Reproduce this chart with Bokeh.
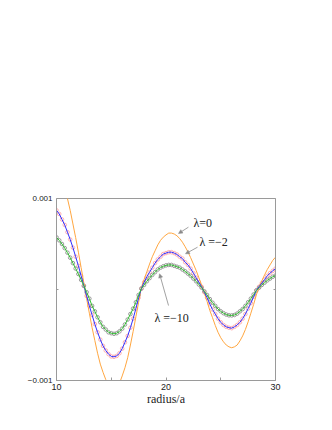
from bokeh.plotting import figure
from bokeh.models import (Range1d, FixedTicker, LinearAxis, Label, Arrow, NormalHead,
                          ColumnDataSource)
from bokeh.embed import file_html
from bokeh.resources import INLINE

# radius/a sampled every 0.25 from 10 to 30
radius = [10 + 0.25 * i for i in range(81)]

# Psi values (units of 1e-3)
psi_lam0 = [1.35, 1.29, 1.21, 1.11, 1.00, 0.87, 0.72, 0.57, 0.41, 0.24, 0.07,
            -0.10, -0.26, -0.42, -0.56, -0.70, -0.82, -0.91, -0.99, -1.05, -1.08,
            -1.09, -1.07, -1.03, -0.95, -0.86, -0.75, -0.61, -0.46, -0.30, -0.14,
            0.02, 0.11, 0.195, 0.28, 0.36, 0.425, 0.49, 0.54, 0.575, 0.60, 0.62,
            0.62, 0.61, 0.59, 0.56, 0.52, 0.47, 0.415, 0.35, 0.28, 0.21, 0.13, 0.05,
            -0.04, -0.13, -0.23, -0.31, -0.395, -0.47, -0.53, -0.575, -0.61, -0.63,
            -0.64, -0.63, -0.61, -0.565, -0.51, -0.44, -0.355, -0.26, -0.165, -0.06,
            0.03, 0.095, 0.16, 0.22, 0.27, 0.32, 0.355]

psi_lam2 = [0.87, 0.83, 0.77, 0.71, 0.63, 0.55, 0.46, 0.36, 0.26, 0.15, 0.04,
            -0.07, -0.18, -0.28, -0.38, -0.47, -0.55, -0.62, -0.67, -0.71, -0.735,
            -0.74, -0.73, -0.70, -0.65, -0.58, -0.51, -0.42, -0.32, -0.21, -0.09,
            0.01, 0.08, 0.14, 0.19, 0.24, 0.29, 0.33, 0.36, 0.39, 0.40, 0.41,
            0.41, 0.40, 0.385, 0.36, 0.34, 0.30, 0.27, 0.23, 0.18, 0.13, 0.08, 0.03,
            -0.03, -0.09, -0.16, -0.22, -0.27, -0.32, -0.36, -0.39, -0.41, -0.42,
            -0.425, -0.41, -0.39, -0.36, -0.32, -0.27, -0.21, -0.15, -0.08, -0.01,
            0.03, 0.07, 0.11, 0.15, 0.18, 0.205, 0.23]

psi_lam10 = [0.573, 0.54, 0.50, 0.455, 0.405, 0.35, 0.29, 0.23, 0.17, 0.106, 0.04,
             -0.03, -0.10, -0.18, -0.24, -0.305, -0.36, -0.41, -0.44, -0.47, -0.48,
             -0.487, -0.48, -0.46, -0.43, -0.385, -0.33, -0.27, -0.21, -0.14, -0.06,
             0.01, 0.05, 0.09, 0.125, 0.16, 0.19, 0.22, 0.24, 0.255, 0.265, 0.27,
             0.27, 0.26, 0.25, 0.24, 0.22, 0.20, 0.175, 0.15, 0.12, 0.09, 0.055, 0.02,
             -0.02, -0.06, -0.105, -0.145, -0.18, -0.215, -0.24, -0.26, -0.275, -0.284,
             -0.285, -0.28, -0.265, -0.24, -0.215, -0.18, -0.14, -0.10, -0.055, -0.01,
             0.02, 0.05, 0.075, 0.10, 0.12, 0.14, 0.154]

x_ticks = [10, 20, 30]
x_minor = [15, 25]
y_ticks = [-0.001, 0.001]
y_tick_labels = {-0.001: "\u22120.001", 0.001: "0.001"}

scale = 1e-3
src = ColumnDataSource(dict(
    r=radius,
    l0=[v * scale for v in psi_lam0],
    l2=[v * scale for v in psi_lam2],
    l10=[v * scale for v in psi_lam10],
))

GRAY = "#9a9a9a"
SERIF = "serif"
SANS = "Liberation Sans"

p = figure(frame_width=219, frame_height=182,
           x_range=Range1d(10, 30), y_range=Range1d(-0.001, 0.001),
           output_backend="svg", toolbar_location=None,
           min_border_left=56, min_border_right=41, min_border_top=198,
           min_border_bottom=30, background_fill_color="white",
           border_fill_color="white")
p.grid.visible = False
p.outline_line_color = GRAY
p.outline_line_width = 1

# bottom axis
xa = p.xaxis[0]
xa.ticker = FixedTicker(ticks=x_ticks, minor_ticks=x_minor)
xa.axis_line_color = GRAY
xa.major_tick_in = 3
xa.major_tick_out = 0
xa.minor_tick_in = 3
xa.minor_tick_out = 0
xa.major_tick_line_color = GRAY
xa.minor_tick_line_color = GRAY
xa.major_label_text_font = SANS
xa.major_label_text_font_size = "9px"
xa.major_label_text_color = "#222222"
xa.major_label_standoff = 3
xa.axis_label = "radius/a"
xa.axis_label_text_font = SERIF
xa.axis_label_text_font_style = "normal"
xa.axis_label_text_font_size = "12px"
xa.axis_label_text_color = "#222222"
xa.axis_label_standoff = -1

# left axis
ya = p.yaxis[0]
ya.ticker = FixedTicker(ticks=y_ticks, minor_ticks=[0])
ya.major_label_overrides = y_tick_labels
ya.axis_line_color = GRAY
ya.major_tick_in = 0
ya.major_tick_out = 0
ya.minor_tick_in = 2
ya.minor_tick_out = 0
ya.minor_tick_line_color = GRAY
ya.major_label_text_font = SANS
ya.major_label_text_font_size = "8px"
ya.major_label_text_color = "#222222"
ya.major_label_standoff = 4

# right axis (frame ticks only)
ra = LinearAxis(ticker=FixedTicker(ticks=[], minor_ticks=[0]))
ra.axis_line_color = GRAY
ra.minor_tick_in = 2
ra.minor_tick_out = 0
ra.minor_tick_line_color = GRAY
ra.major_tick_line_color = None
ra.major_label_text_font_size = "0px"
p.add_layout(ra, "right")

# curves: markers underneath, lines on top
p.scatter("r", "l2", source=src, size=3.6, marker="circle", fill_color=None,
          line_color="#ffa8a8", line_width=0.9)
p.scatter("r", "l10", source=src, size=3.6, marker="circle", fill_color=None,
          line_color="#909090", line_width=0.9)
p.line("r", "l0", source=src, line_color="#ffa640", line_width=1)
p.line("r", "l2", source=src, line_color="#3030ff", line_width=1)
p.line("r", "l10", source=src, line_color="#30c030", line_width=1)

# Psi axis label
p.add_layout(Label(x=10, y=0, x_offset=-14, y_offset=3, text="\u03a8",
                   text_font=SERIF, text_font_size="13px", text_color="#222222",
                   text_align="center", text_baseline="middle"))

# curve labels with arrows
labels = [("\u03bb=0", 22.5, 0.00073),
          ("\u03bb =\u22122", 23.05, 0.00052),
          ("\u03bb =\u221210", 18.95, -0.00031)]
for txt, lx, ly in labels:
    p.add_layout(Label(x=lx, y=ly, text=txt, text_font=SERIF, text_font_size="12px",
                       text_color="#222222", text_align="left",
                       text_baseline="middle"))

arrows = [(22.05, 0.000685, 21.14, 0.000615),
          (22.88, 0.000465, 21.78, 0.000392),
          (20.23, -0.000176, 19.41, 0.000173)]
for xs, ys, xe, ye in arrows:
    p.add_layout(Arrow(x_start=xs, y_start=ys, x_end=xe, y_end=ye,
                       line_color="#8a8a8a", line_width=0.8,
                       end=NormalHead(size=4, fill_color="#8a8a8a",
                                      line_color="#8a8a8a", line_width=0.5)))

open("out.html", "w").write(file_html(p, INLINE))
